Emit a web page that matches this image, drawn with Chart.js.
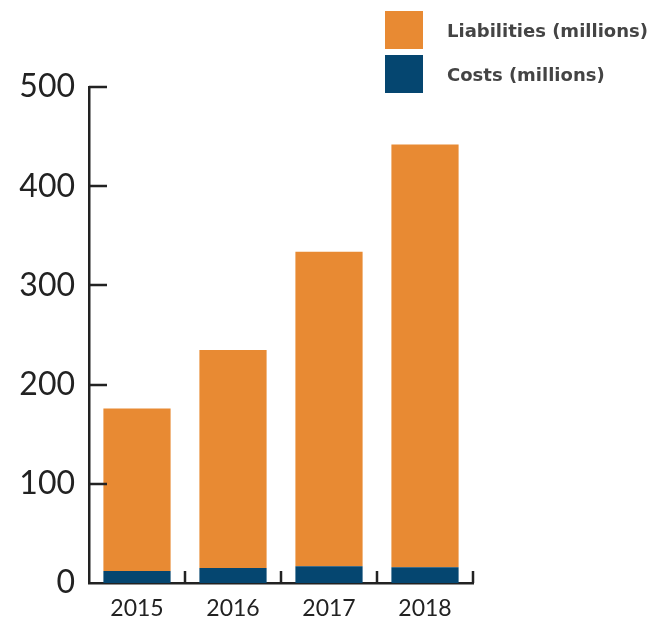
<!DOCTYPE html>
<html>
<head>
<meta charset="utf-8">
<script src="https://cdn.jsdelivr.net/npm/chart.js@4"></script>
<style>
  html, body { margin: 0; padding: 0; background: #fff; }
  #wrap { position: relative; width: 663px; height: 621px; }
  #legend { position: absolute; left: 385px; top: 11px; font-family: "DejaVu Sans", sans-serif; font-weight: bold; font-size: 18px; color: #444; }
  .item { display: flex; align-items: center; height: 38px; margin-bottom: 6px; }
  .box { width: 38px; height: 38px; margin-right: 24px; }
</style>
</head>
<body>
<div id="wrap">
  <canvas id="chart" width="663" height="621"></canvas>
  <div id="legend"></div>
</div>
<script>
const years = ['2015', '2016', '2017', '2018'];
const liabilities = [164, 220, 317, 426];
const costs = [12, 15, 17, 16];
const yTicks = [0, 100, 200, 300, 400, 500];

const orange = '#E88A33';
const navy = '#054670';
const axisColor = '#222';

document.getElementById('legend').innerHTML = [
  ['Liabilities (millions)', orange],
  ['Costs (millions)', navy]
].map(([t, c]) => `<div class="item"><div class="box" style="background:${c}"></div>${t}</div>`).join('');

// small tick marks pointing into the plot
const innerTicks = {
  id: 'innerTicks',
  afterDraw(chart) {
    const ctx = chart.ctx;
    const x = chart.scales.x, y = chart.scales.y;
    const left = chart.chartArea.left, bottom = chart.chartArea.bottom;
    ctx.save();
    ctx.strokeStyle = axisColor;
    ctx.lineWidth = 2.5;
    ctx.beginPath();
    yTicks.slice(1).forEach(v => {
      const py = Math.round(y.getPixelForValue(v));
      ctx.moveTo(left, py);
      ctx.lineTo(left + 18, py);
    });
    const step = x.getPixelForValue(1) - x.getPixelForValue(0);
    years.forEach((_, i) => {
      const px = Math.round(x.getPixelForValue(i) + step / 2);
      ctx.moveTo(px, bottom);
      ctx.lineTo(px, bottom - 12);
    });
    ctx.stroke();
    ctx.restore();
  }
};

new Chart(document.getElementById('chart'), {
  type: 'bar',
  data: {
    labels: years,
    datasets: [
      { label: 'Costs (millions)', data: costs, backgroundColor: navy },
      { label: 'Liabilities (millions)', data: liabilities, backgroundColor: orange }
    ]
  },
  options: {
    responsive: false,
    animation: false,
    layout: { padding: { top: 87, right: 190, left: 0, bottom: 0 } },
    datasets: { bar: { barPercentage: 0.7, categoryPercentage: 1 } },
    plugins: { legend: { display: false }, tooltip: { enabled: false } },
    scales: {
      x: {
        stacked: true,
        grid: { display: false, drawTicks: false },
        border: { color: axisColor, width: 2.5 },
        ticks: { color: axisColor, padding: 12, font: { family: 'Lato', size: 23 } },
        afterFit: s => { s.height = 38; }
      },
      y: {
        stacked: true,
        min: 0,
        max: 500,
        afterBuildTicks: s => { s.ticks = yTicks.map(v => ({ value: v })); },
        grid: { display: false, drawTicks: false },
        border: { color: axisColor, width: 2.5 },
        ticks: { color: axisColor, padding: 14, font: { family: 'Lato', size: 32 } },
        afterFit: s => { s.width = 89; }
      }
    }
  },
  plugins: [innerTicks]
});
</script>
</body>
</html>
